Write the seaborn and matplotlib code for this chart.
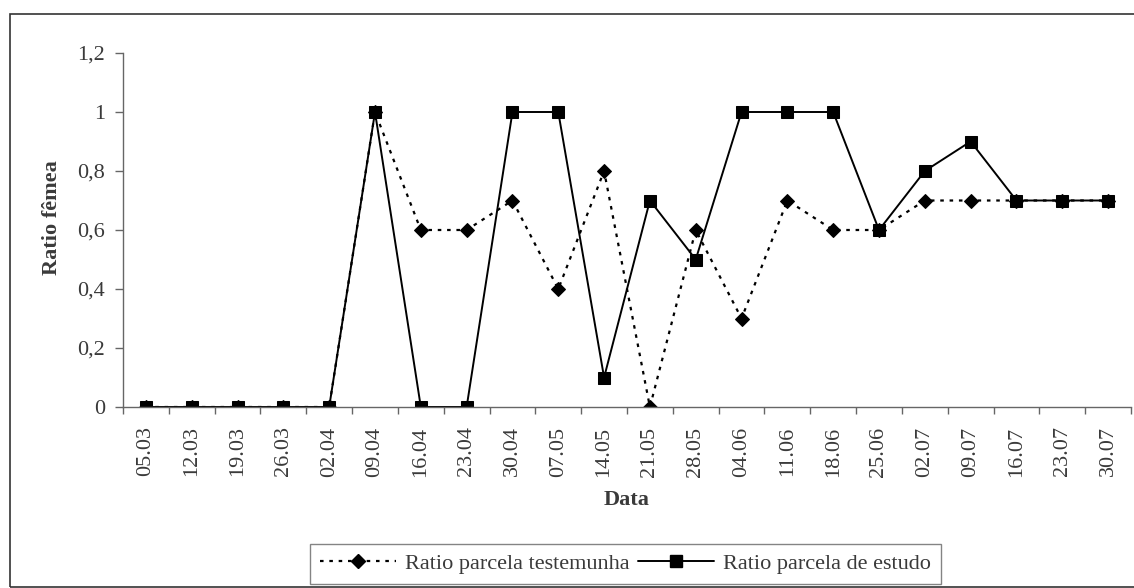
import pandas as pd
import seaborn as sns
import matplotlib.pyplot as plt
from matplotlib.patches import Rectangle
from matplotlib.lines import Line2D

# dados
datas = ["05.03", "12.03", "19.03", "26.03", "02.04", "09.04", "16.04", "23.04",
         "30.04", "07.05", "14.05", "21.05", "28.05", "04.06", "11.06", "18.06",
         "25.06", "02.07", "09.07", "16.07", "23.07", "30.07"]
testemunha = [0, 0, 0, 0, 0, 1, 0.6, 0.6, 0.7, 0.4, 0.8, 0, 0.6, 0.3, 0.7, 0.6,
              0.6, 0.7, 0.7, 0.7, 0.7, 0.7]
estudo = [0, 0, 0, 0, 0, 1, 0, 0, 1, 1, 0.1, 0.7, 0.5, 1, 1, 1,
          0.6, 0.8, 0.9, 0.7, 0.7, 0.7]
yticks = [0, 0.2, 0.4, 0.6, 0.8, 1.0, 1.2]
ytick_labels = ["0", "0,2", "0,4", "0,6", "0,8", "1", "1,2"]

df = pd.DataFrame({"pos": range(len(datas)), "Data": datas,
                   "testemunha": testemunha, "estudo": estudo})

sns.set_style("white")
plt.rcParams["font.family"] = ["Liberation Serif", "DejaVu Serif"]
txt = "#3a3a3a"
axc = "#666666"
dot_ls = (0, (1.6, 2.6))

fig = plt.figure(figsize=(11.34, 5.88), dpi=100)
ax = fig.add_axes([123 / 1134, 1 - 407 / 588, 1008 / 1134, 354 / 588])

sns.lineplot(data=df, x="pos", y="testemunha", ax=ax, color="black",
             marker="D", markersize=7, linewidth=1.6, linestyle=dot_ls,
             markeredgecolor="black")
sns.lineplot(data=df, x="pos", y="estudo", ax=ax, color="black",
             marker="s", markersize=9, linewidth=1.4,
             markeredgecolor="black")

ax.set_xlim(-0.5, len(datas) - 0.5)
ax.set_ylim(0, 1.2)
ax.set_yticks(yticks)
ax.set_yticklabels(ytick_labels, fontsize=16, color=txt)
ax.set_xticks(range(len(datas)))
ax.set_xticklabels(datas, rotation=90, fontsize=16, color=txt)
ax.set_xticks([i - 0.5 for i in range(len(datas) + 1)], minor=True)
ax.tick_params(axis="x", which="major", bottom=True, length=0, pad=14)
ax.tick_params(axis="x", which="minor", bottom=True, length=5, width=1, color=axc, direction="out")
ax.tick_params(axis="y", left=True, length=6, width=1, color=axc, direction="out", pad=7)

for s in ["top", "right"]:
    ax.spines[s].set_visible(False)
for s in ["left", "bottom"]:
    ax.spines[s].set_color(axc)
    ax.spines[s].set_linewidth(1)

ax.set_xlabel("Data", fontsize=16, fontweight="bold", color=txt)
ax.set_ylabel("Ratio fêmea", fontsize=16, fontweight="bold", color=txt)
ax.xaxis.set_label_coords(0.5, -0.2345)
ax.yaxis.set_label_coords(-0.0605, 0.534)

# legenda
handles = [
    Line2D([], [], color="black", marker="D", markersize=7, linewidth=1.6,
           linestyle=dot_ls),
    Line2D([], [], color="black", marker="s", markersize=9, linewidth=1.4),
]
leg = fig.legend(handles, ["Ratio parcela testemunha", "Ratio parcela de estudo"],
                 loc="center", bbox_to_anchor=(625.5 / 1134, 1 - 564 / 588), ncol=2,
                 fontsize=16, frameon=True, fancybox=False, handlelength=3.4,
                 columnspacing=0.4, handletextpad=0.4, borderpad=0.45,
                 borderaxespad=0)
leg.get_frame().set_edgecolor(axc)
leg.get_frame().set_linewidth(1)
for t in leg.get_texts():
    t.set_color(txt)

# moldura do gráfico
fig.patches.append(Rectangle((10 / 1134, 0.001), 1.0, 1 - 14 / 588 - 0.001,
                             transform=fig.transFigure, fill=False,
                             edgecolor="#333333", linewidth=1.2))

fig.savefig("out.png", dpi=100)
